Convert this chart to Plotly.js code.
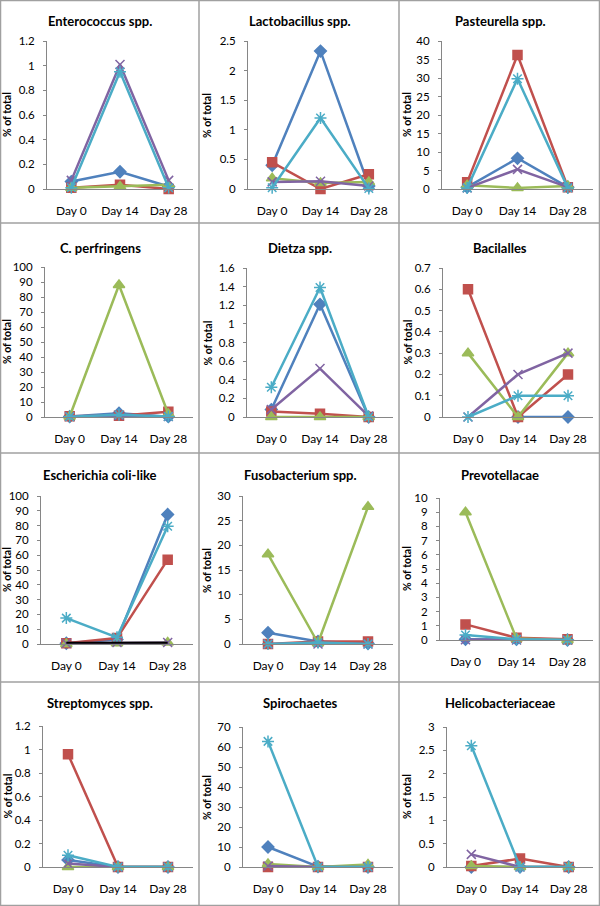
<!DOCTYPE html>
<html>
<head>
<meta charset="utf-8">
<script src="https://cdn.plot.ly/plotly-3.0.1.min.js"></script>
<style>
  body { margin: 0; background: #fff; }
  #chart { width: 600px; height: 906px; }
</style>
</head>
<body>
<div id="chart"></div>
<script>
// sampling days and panel names
var days = ['Day 0', 'Day 14', 'Day 28']
var titles = ['Enterococcus spp.', 'Lactobacillus spp.', 'Pasteurella spp.',
  'C. perfringens', 'Dietza spp.', 'Bacilalles',
  'Escherichia coli-like', 'Fusobacterium spp.', 'Prevotellacae',
  'Streptomyces spp.', 'Spirochaetes', 'Helicobacteriaceae']
var yMax = [1.2, 2.5, 40, 100, 1.6, 0.7, 100, 30, 10, 1.2, 70, 3]
var yStep = [0.2, 0.5, 5, 10, 0.2, 0.1, 10, 5, 1, 0.2, 10, 0.5]

// % of total, one triplet (Day 0, Day 14, Day 28) per panel
var blueVals = [[0.06, 0.14, 0.02], [0.4, 2.33, 0.05], [0.5, 8.3, 0.5],
  [0.3, 2.5, 0.2], [0.08, 1.21, 0], [null, 0, 0],
  [0.5, 3, 87.5], [2.3, 0.5, 0.1], [0.05, 0.05, 0],
  [0.06, 0, 0], [10, 0.2, 0], [0, 0, 0]]
var redVals = [[0.01, 0.035, 0], [0.45, 0, 0.25], [1.8, 36.2, 0.5],
  [0.5, 0.8, 3.5], [0.06, 0.035, 0], [0.6, 0, 0.2],
  [0.5, 4, 57], [0, 0.5, 0.5], [1.1, 0.15, 0.05],
  [0.96, 0, 0], [0, 0, 0], [0.02, 0.18, 0]]
var greenVals = [[0.01, 0.02, 0.035], [0.18, 0.1, 0.12], [1.0, 0.3, 0.8],
  [0.3, 88, 2], [0, 0, 0], [0.3, 0, 0.3],
  [0, 0.5, 1], [18.2, 0.2, 27.8], [9.0, 0.1, 0],
  [0, 0, 0], [1.5, 0, 1.2], [0.02, 0, 0]]
var purpleVals = [[0.07, 1.01, 0.07], [0.12, 0.13, 0.05], [0.3, 5.3, 0.5],
  [0.3, 1, 0.3], [0.08, 0.52, 0.01], [0, 0.2, 0.3],
  [0.5, 1, 1], [0, 0, 0], [0.02, 0, 0],
  [0.03, 0, 0], [0.5, 0, 0], [0.27, 0, 0]]
var cyanVals = [[0.01, 0.95, 0.01], [0.02, 1.2, 0.01], [0.3, 29.8, 0.3],
  [0.2, 1.5, 0.3], [0.32, 1.39, 0], [0, 0.1, 0.1],
  [17.5, 4.5, 79.5], [0, 0.3, 0], [0.35, 0.05, 0],
  [0.1, 0, 0], [62.8, 0, 0], [2.6, 0, 0]]
// extra dark series only seen in the E. coli-like panel
var blackVals = [0.8, 0.8, 0.8]

var series = [
  {vals: blueVals, color: '#4F81BD', symbol: 'diamond', size: 9},
  {vals: redVals, color: '#C0504D', symbol: 'square', size: 9},
  {vals: greenVals, color: '#9BBB59', symbol: 'triangle-up', size: 10},
  {vals: purpleVals, color: '#8064A2', symbol: 'x-thin-open', size: 9},
  {vals: cyanVals, color: '#4BACC6', symbol: 'asterisk-open', size: 10}
]

// plot areas in pixels: left, right, top, bottom
var boxes = [
  [47, 193, 41, 189], [248, 393, 41, 189], [442, 593, 41, 189],
  [45, 193, 267, 417], [247, 393, 268, 417], [443, 593, 268, 417],
  [41, 193, 496, 644], [243, 393, 496, 644], [440, 593, 498, 640],
  [43, 193, 726, 867], [243, 393, 727, 867], [447, 593, 727, 867]
]
var W = 600, H = 906
var titleY = [21, 248, 475, 703]
var colMid = [100, 300, 500]
var ylabX = [7, 207, 407]

var font = 'Lato, "Open Sans", sans-serif'
var data = []
var layout = {
  width: W, height: H,
  margin: {l: 0, r: 0, t: 0, b: 0},
  paper_bgcolor: '#fff', plot_bgcolor: '#fff',
  showlegend: false,
  font: {family: font, size: 12, color: '#000'},
  annotations: [],
  shapes: []
}

for (var p = 0; p < 12; p++) {
  var n = p === 0 ? '' : String(p + 1)
  var b = boxes[p]
  series.forEach(function (s) {
    data.push({
      x: days, y: s.vals[p], xaxis: 'x' + n, yaxis: 'y' + n,
      type: 'scatter', mode: 'lines+markers', cliponaxis: false,
      line: {color: s.color, width: 2.5},
      marker: {symbol: s.symbol, size: s.size, color: s.color,
        line: {color: s.color, width: 1.5}}
    })
  })
  if (p === 6) {
    data.push({
      x: days, y: blackVals, xaxis: 'x7', yaxis: 'y7',
      type: 'scatter', mode: 'lines', cliponaxis: false,
      line: {color: '#000', width: 2}
    })
  }
  layout['xaxis' + n] = {
    domain: [b[0] / W, b[1] / W], anchor: 'y' + n,
    type: 'category', range: [-0.5, 2.5],
    showline: true, linecolor: '#868686', linewidth: 1,
    showgrid: false, zeroline: false, ticks: '',
    ticklabelstandoff: 11,
    tickfont: {size: 12}, fixedrange: true
  }
  layout['yaxis' + n] = {
    domain: [1 - b[3] / H, 1 - b[2] / H], anchor: 'x' + n,
    range: [0, yMax[p]], dtick: yStep[p], tick0: 0,
    showline: true, linecolor: '#868686', linewidth: 1,
    showgrid: false, zeroline: false,
    ticks: 'outside', ticklen: 3, tickcolor: '#868686',
    ticklabelstandoff: 6,
    tickfont: {size: 11.5}, fixedrange: true
  }
  var row = Math.floor(p / 3), col = p % 3
  layout.annotations.push({
    text: '<b>' + titles[p] + '</b>', xref: 'paper', yref: 'paper',
    x: colMid[col] / W, y: 1 - titleY[row] / H,
    xanchor: 'center', yanchor: 'middle', showarrow: false,
    font: {size: 13}
  })
  layout.annotations.push({
    text: '<b>% of total</b>', xref: 'paper', yref: 'paper',
    x: ylabX[col] / W, y: 1 - (b[2] + b[3]) / 2 / H,
    xanchor: 'center', yanchor: 'middle', showarrow: false,
    textangle: -90, font: {size: 10.5}
  })
}

// panel frames
var gridColor = '#a0a0a0'
var vx = [0.5, 199, 399, 599.5]
var hy = [0.5, 223, 453, 682, 905.5]
vx.forEach(function (x) {
  layout.shapes.push({type: 'line', xref: 'paper', yref: 'paper',
    x0: x / W, x1: x / W, y0: 0, y1: 1, line: {color: gridColor, width: 1.5}})
})
hy.forEach(function (y) {
  layout.shapes.push({type: 'line', xref: 'paper', yref: 'paper',
    x0: 0, x1: 1, y0: 1 - y / H, y1: 1 - y / H, line: {color: gridColor, width: 1.5}})
})

Plotly.newPlot('chart', data, layout, {displayModeBar: false, staticPlot: true})
</script>
</body>
</html>
